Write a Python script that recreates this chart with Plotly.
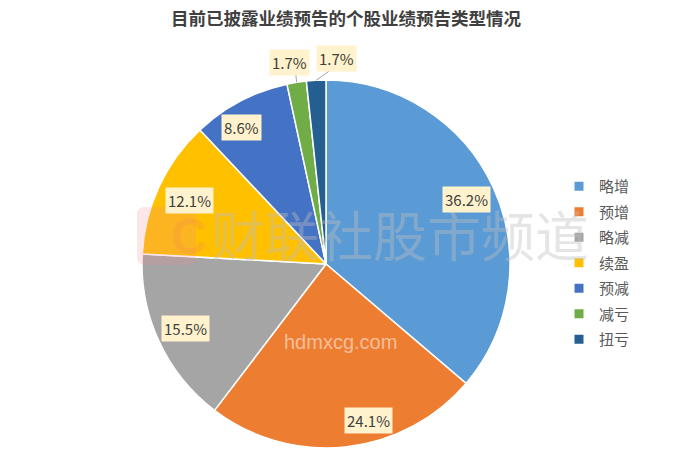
import math
import plotly.graph_objects as go

categories = ["略增", "预增", "略减", "续盈", "预减", "减亏", "扭亏"]
values = [36.2, 24.1, 15.5, 12.1, 8.6, 1.7, 1.7]
label_texts = ["36.2%", "24.1%", "15.5%", "12.1%", "8.6%", "1.7%", "1.7%"]
colors = ["#5B9BD5", "#ED7D31", "#A5A5A5", "#FFC000", "#4472C4", "#70AD47", "#255E91"]
title = "目前已披露业绩预告的个股业绩预告类型情况"

OFF = 8                      # page body margin
W, H = 692 - 2 * OFF, 464 - 2 * OFF
CX, CY, R = 326 - OFF, 264 - OFF, 184  # pie centre and radius (figure pixels)

# label placement style: radius factor and angular nudge (deg) per slice
label_r = [0.84, 0.88, 0.84, 0.82, 0.87, 1.11, 1.12]
label_nudge = [0, -9, 0, 0, -4, -1, 6]
outside = [False, False, False, False, False, True, True]

FONT = "Noto Sans CJK SC"


def px2x(x):
    return x / W


def px2y(y):
    return 1 - y / H


fig = go.Figure(go.Pie(
    labels=categories,
    values=values,
    sort=False,
    direction="clockwise",
    rotation=0,
    marker=dict(colors=colors, line=dict(color="white", width=1.5)),
    textinfo="none",
    hoverinfo="label+percent",
    showlegend=False,
    domain=dict(x=[px2x(CX - R), px2x(CX + R)], y=[px2y(CY + R), px2y(CY - R)]),
))

# legend entries (one group per category so spacing can be controlled)
for name, col in zip(categories, colors):
    fig.add_trace(go.Scatter(
        x=[None], y=[None], mode="markers", name=name, legendgroup=name,
        marker=dict(symbol="square", size=9, color=col),
        hoverinfo="skip",
    ))

total = sum(values)
cum = 0.0
annotations = []
shapes = []

# watermark logo (rounded square) drawn first, beneath the labels
lx0, lx1, ly0, ly1, rr = 137 - OFF, 196 - OFF, 207 - OFF, 265 - OFF, 8
path = (f"M {px2x(lx0 + rr)} {px2y(ly0)} L {px2x(lx1 - rr)} {px2y(ly0)} "
        f"Q {px2x(lx1)} {px2y(ly0)} {px2x(lx1)} {px2y(ly0 + rr)} "
        f"L {px2x(lx1)} {px2y(ly1 - rr)} Q {px2x(lx1)} {px2y(ly1)} {px2x(lx1 - rr)} {px2y(ly1)} "
        f"L {px2x(lx0 + rr)} {px2y(ly1)} Q {px2x(lx0)} {px2y(ly1)} {px2x(lx0)} {px2y(ly1 - rr)} "
        f"L {px2x(lx0)} {px2y(ly0 + rr)} Q {px2x(lx0)} {px2y(ly0)} {px2x(lx0 + rr)} {px2y(ly0)} Z")
shapes.append(dict(type="path", xref="paper", yref="paper", path=path,
                   fillcolor="rgba(240,140,150,0.22)", line=dict(width=0)))
annotations.append(dict(x=px2x(169 - OFF), y=px2y(237 - OFF), xref="paper", yref="paper",
                        text="<b>C</b>", showarrow=False,
                        font=dict(family="Liberation Sans", size=50, color="rgba(245,150,60,0.35)")))
annotations.append(dict(x=px2x(400 - OFF), y=px2y(233 - OFF), xref="paper", yref="paper",
                        text="财联社股市频道", showarrow=False,
                        font=dict(family=FONT, size=54, color="rgba(190,190,190,0.40)")))
annotations.append(dict(x=px2x(340 - OFF), y=px2y(355 - OFF), xref="paper", yref="paper",
                        text="hdmxcg.com", showarrow=False,
                        font=dict(family="Liberation Sans", size=20, color="rgba(255,255,255,0.5)")))

for i, v in enumerate(values):
    mid = (cum + v / 2) / total * 360.0
    cum += v
    ang = math.radians(mid + label_nudge[i])
    r = R * label_r[i]
    px = CX + r * math.sin(ang)
    py = CY - r * math.cos(ang)
    annotations.append(dict(
        x=px2x(px), y=px2y(py), xref="paper", yref="paper",
        text=label_texts[i], showarrow=False,
        font=dict(family=FONT, size=15, color="#404040"),
        bgcolor="#FFF2CC", borderpad=2,
        xanchor="center", yanchor="middle",
    ))
    if outside[i]:
        am = math.radians(mid)
        x0 = CX + R * math.sin(am)
        y0 = CY - R * math.cos(am)
        x1 = px + (6 if px < CX else -6)
        y1 = py + 12
        shapes.append(dict(type="line", xref="paper", yref="paper",
                           x0=px2x(x0), y0=px2y(y0), x1=px2x(x1), y1=px2y(y1),
                           line=dict(color="#A6A6A6", width=1)))

fig.update_layout(
    width=W, height=H,
    margin=dict(l=0, r=0, t=0, b=0),
    paper_bgcolor="white", plot_bgcolor="white",
    xaxis=dict(visible=False), yaxis=dict(visible=False),
    title=dict(text="<b>" + title + "</b>", x=0.5, xanchor="center", y=px2y(19 - OFF), yanchor="middle",
               font=dict(family=FONT, size=17.5, color="#404040")),
    legend=dict(x=px2x(559 - OFF), y=px2y(170 - OFF), xanchor="left", yanchor="top",
                font=dict(family=FONT, size=15, color="#595959"),
                itemwidth=30, tracegroupgap=3, bgcolor="rgba(0,0,0,0)"),
    annotations=annotations,
    shapes=shapes,
)

fig.write_html("out.html")
